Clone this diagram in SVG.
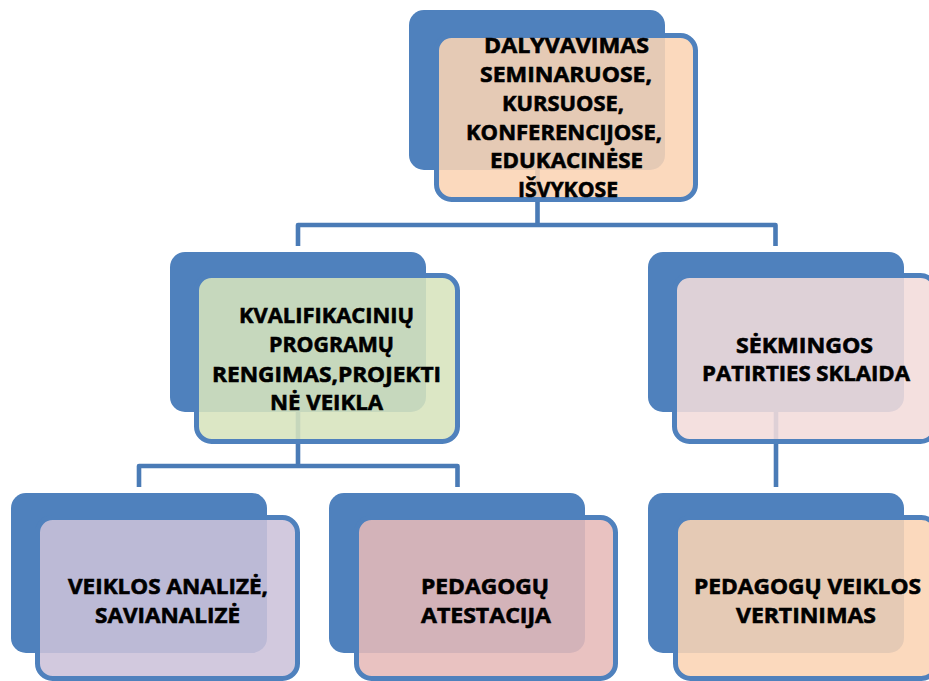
<svg xmlns="http://www.w3.org/2000/svg" width="929" height="681" viewBox="0 0 929 681">
<style>
.back{fill:#4F81BD;}
.front{stroke:#4F81BD;stroke-width:5;fill-opacity:0.88;}
.conn{fill:none;stroke:#4A7BB6;stroke-width:4.6;stroke-linejoin:round;}
.t{font-family:"Open Sans","Liberation Sans",sans-serif;font-weight:700;font-size:22px;fill:#000;stroke:#000;stroke-width:0.6;}
</style>
<rect width="929" height="681" fill="#FFFFFF"/>
<g id="connectors">
<path class="conn" d="M298,246 V225 H775.5 V246 M537.5,170 V225"/>
<path class="conn" d="M139,487 V466 H457.5 V487 M298,412 V466"/>
<path class="conn" d="M776,412 V487"/>
</g>
<g id="node-dalyvavimas">
<rect class="back" x="409" y="10" width="256" height="160" rx="15"/>
<rect class="front" x="436.5" y="35.5" width="259" height="164" rx="15" fill="#FBD4B4"/>
<text class="t" x="484" y="53" textLength="165" lengthAdjust="spacingAndGlyphs">DALYVAVIMAS</text>
<text class="t" x="480" y="82" textLength="172" lengthAdjust="spacingAndGlyphs">SEMINARUOSE,</text>
<text class="t" x="502" y="111" textLength="122" lengthAdjust="spacingAndGlyphs">KURSUOSE,</text>
<text class="t" x="466" y="140" textLength="196" lengthAdjust="spacingAndGlyphs">KONFERENCIJOSE,</text>
<text class="t" x="490" y="168" textLength="153" lengthAdjust="spacingAndGlyphs">EDUKACINĖSE</text>
<text class="t" x="518" y="197" textLength="100" lengthAdjust="spacingAndGlyphs">IŠVYKOSE</text>
</g>
<g id="node-kvalifikaciniu">
<rect class="back" x="170" y="252" width="256" height="160" rx="15"/>
<rect class="front" x="196.5" y="275.5" width="261" height="166" rx="15" fill="#D7E4BD"/>
<text class="t" x="239" y="323" textLength="175" lengthAdjust="spacingAndGlyphs">KVALIFIKACINIŲ</text>
<text class="t" x="269" y="352" textLength="125" lengthAdjust="spacingAndGlyphs">PROGRAMŲ</text>
<text class="t" x="212" y="382" textLength="229" lengthAdjust="spacingAndGlyphs">RENGIMAS,PROJEKTI</text>
<text class="t" x="270" y="410" textLength="113" lengthAdjust="spacingAndGlyphs">NĖ VEIKLA</text>
</g>
<g id="node-sekmingos">
<rect class="back" x="648" y="252" width="256" height="160" rx="15"/>
<rect class="front" x="674.5" y="275.5" width="261" height="166" rx="15" fill="#F2DCDB"/>
<text class="t" x="736" y="353" textLength="137" lengthAdjust="spacingAndGlyphs">SĖKMINGOS</text>
<text class="t" x="702" y="381" textLength="208" lengthAdjust="spacingAndGlyphs">PATIRTIES SKLAIDA</text>
</g>
<g id="node-veiklos-analize">
<rect class="back" x="11" y="493" width="256" height="160" rx="15"/>
<rect class="front" x="37.5" y="517.5" width="260" height="161" rx="15" fill="#CCC1DA"/>
<text class="t" x="68" y="594" textLength="200" lengthAdjust="spacingAndGlyphs">VEIKLOS ANALIZĖ,</text>
<text class="t" x="95" y="623" textLength="145" lengthAdjust="spacingAndGlyphs">SAVIANALIZĖ</text>
</g>
<g id="node-atestacija">
<rect class="back" x="329" y="493" width="256" height="160" rx="15"/>
<rect class="front" x="356.5" y="517.5" width="259" height="161" rx="15" fill="#E6B9B8"/>
<text class="t" x="421" y="594" textLength="128" lengthAdjust="spacingAndGlyphs">PEDAGOGŲ</text>
<text class="t" x="421" y="623" textLength="130" lengthAdjust="spacingAndGlyphs">ATESTACIJA</text>
</g>
<g id="node-vertinimas">
<rect class="back" x="648" y="493" width="256" height="160" rx="15"/>
<rect class="front" x="675.5" y="517.5" width="261" height="161" rx="15" fill="#FBD4B4"/>
<text class="t" x="694" y="594" textLength="227" lengthAdjust="spacingAndGlyphs">PEDAGOGŲ VEIKLOS</text>
<text class="t" x="736" y="623" textLength="140" lengthAdjust="spacingAndGlyphs">VERTINIMAS</text>
</g>
</svg>
